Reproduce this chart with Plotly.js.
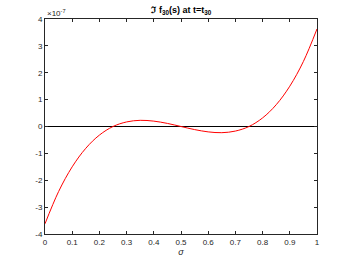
<!DOCTYPE html>
<html><head><meta charset="utf-8">
<script src="https://cdn.plot.ly/plotly-3.0.1.min.js"></script>
<style>html,body{margin:0;padding:0;background:#fff}#plot{width:350px;height:263px}</style>
</head><body><div id="plot"></div>
<script>
// sigma values
const sigma = [0,0.05,0.1,0.15,0.2,0.25,0.3,0.35,0.4,0.45,0.5,0.55,0.6,0.65,0.7,0.75,0.8,0.85,0.9,0.95,1];
// Im f_30(s), in units of 1e-7
const imF = [-3.62,-2.42,-1.50,-0.81,-0.32,0,0.17,0.23,0.20,0.115,0,-0.115,-0.20,-0.23,-0.17,0,0.32,0.81,1.50,2.42,3.63];
const zeroX = [0,1];
const zeroY = [0,0];
const xTicks = [0,0.1,0.2,0.3,0.4,0.5,0.6,0.7,0.8,0.9,1];
const yTicks = [-4,-3,-2,-1,0,1,2,3,4];

const axisColor = '#262626';
const fontFam = 'Liberation Sans, Arial, sans-serif';

const traces = [
  {x: zeroX, y: zeroY, mode: 'lines', line: {color: '#000', width: 1}, hoverinfo: 'skip'},
  {x: sigma, y: imF, mode: 'lines', line: {color: '#ff0000', width: 1, shape: 'spline'}}
];

const axisCommon = {
  showgrid: false, zeroline: false, showline: true, mirror: 'ticks',
  linecolor: axisColor, linewidth: 1, ticks: 'inside', ticklen: 3, tickwidth: 1,
  tickcolor: axisColor, tickfont: {family: fontFam, size: 8, color: axisColor}
};

const layout = {
  width: 350, height: 263,
  margin: {l: 45, r: 33, t: 19, b: 29, pad: 0},
  paper_bgcolor: '#fff', plot_bgcolor: '#fff',
  showlegend: false,
  font: {family: fontFam, color: axisColor},
  title: {text: '<b>ℑ f<sub>30</sub>(s) at t=t<sub>30</sub></b>', font: {family: fontFam, size: 9, color: '#000'}, x: 0.518, xanchor: 'center', y: 0.975, yanchor: 'top'},
  xaxis: Object.assign({}, axisCommon, {range: [0, 1], tickvals: xTicks, ticktext: xTicks.map(String),
    title: {text: '<i>σ</i>', font: {family: fontFam, size: 9, color: axisColor}, standoff: 2}}),
  yaxis: Object.assign({}, axisCommon, {range: [-4, 4], tickvals: yTicks, ticktext: yTicks.map(String)}),
  annotations: [{text: '×10<sup>-7</sup>', xref: 'paper', yref: 'paper', x: 0, y: 1, xanchor: 'left', yanchor: 'bottom',
    showarrow: false, font: {family: fontFam, size: 8, color: axisColor}, xshift: 0, yshift: -1}]
};

Plotly.newPlot('plot', traces, layout, {displayModeBar: false, staticPlot: true});
</script></body></html>
